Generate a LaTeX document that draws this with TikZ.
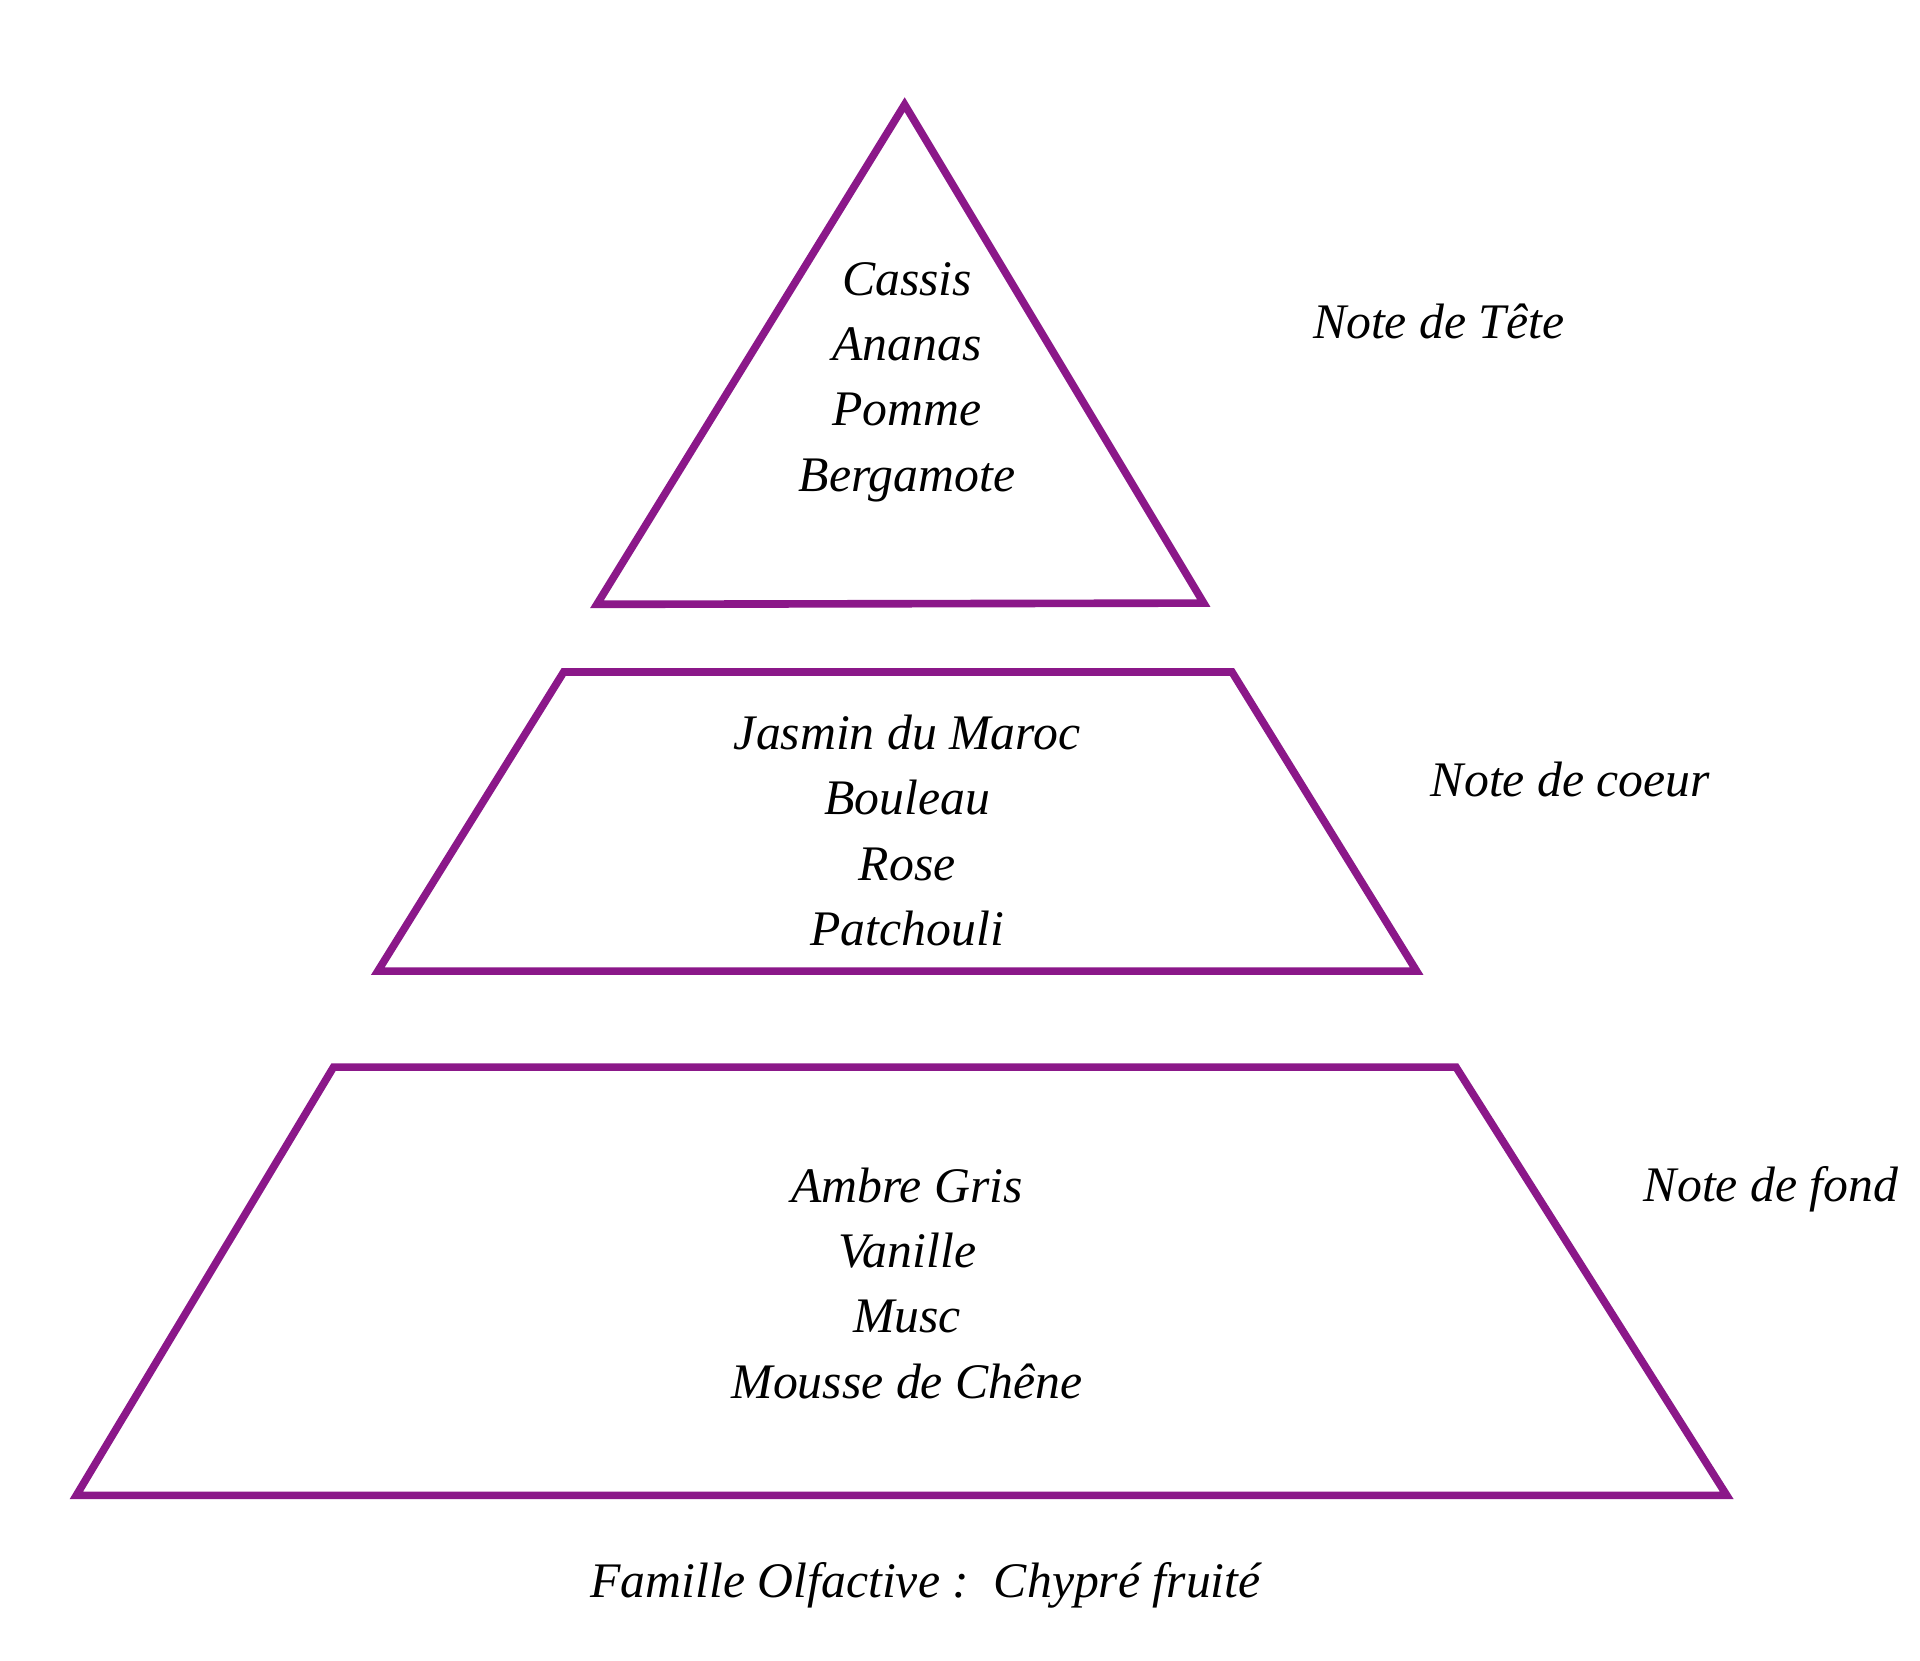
\documentclass[tikz,border=0pt]{standalone}
\usepackage{fontspec}
\setmainfont{Liberation Serif}
\definecolor{pyr}{RGB}{139,24,137}
\begin{document}
\begin{tikzpicture}[x=0.1mm,y=-0.1mm,
  tier/.style={draw=pyr,line width=0.62mm,line join=miter},
  note/.style={anchor=base,inner sep=0pt,font=\fontsize{11.5}{14}\selectfont\itshape},
  side/.style={note}]
\useasboundingbox[fill=white] (0,0) rectangle (1560,1349);
% tiers
\draw[tier] (735,85) coordinate (t1) -- (978,490) coordinate (t2) -- (485,491) coordinate (t3) -- cycle;
\draw[tier] (458,546) coordinate (m1) -- (1001,546) coordinate (m2) -- (1151,789) coordinate (m3) -- (307,789) coordinate (m4) -- cycle;
\draw[tier] (271,867) coordinate (b1) -- (1183,867) coordinate (b2) -- (1403,1215) coordinate (b3) -- (62,1215) coordinate (b4) -- cycle;
% top notes
\node[note] (cassis) at (737,240) {Cassis};
\node[note] (ananas) at (737,293) {Ananas};
\node[note] (pomme) at (737,346) {Pomme};
\node[note] (berga) at (737,399) {Bergamote};
% heart notes
\node[note] (jasmin) at (737,609) {Jasmin du Maroc};
\node[note] (bouleau) at (737,662) {Bouleau};
\node[note] (rose) at (737,715) {Rose};
\node[note] (patch) at (737,768) {Patchouli};
% base notes
\node[note] (ambre) at (737,977) {Ambre Gris};
\node[note] (vanille) at (737,1030) {Vanille};
\node[note] (musc) at (737,1083) {Musc};
\node[note] (mousse) at (737,1136) {Mousse de Chêne};
% side labels
\node[side] (tete) at (1169,275) {Note de Tête};
\node[side] (coeur) at (1276,647) {Note de coeur};
\node[side] (fond) at (1439,976) {Note de fond};
\node[side] (famille) at (752,1298) {Famille Olfactive :\, Chypré fruité};
\end{tikzpicture}
\end{document}
